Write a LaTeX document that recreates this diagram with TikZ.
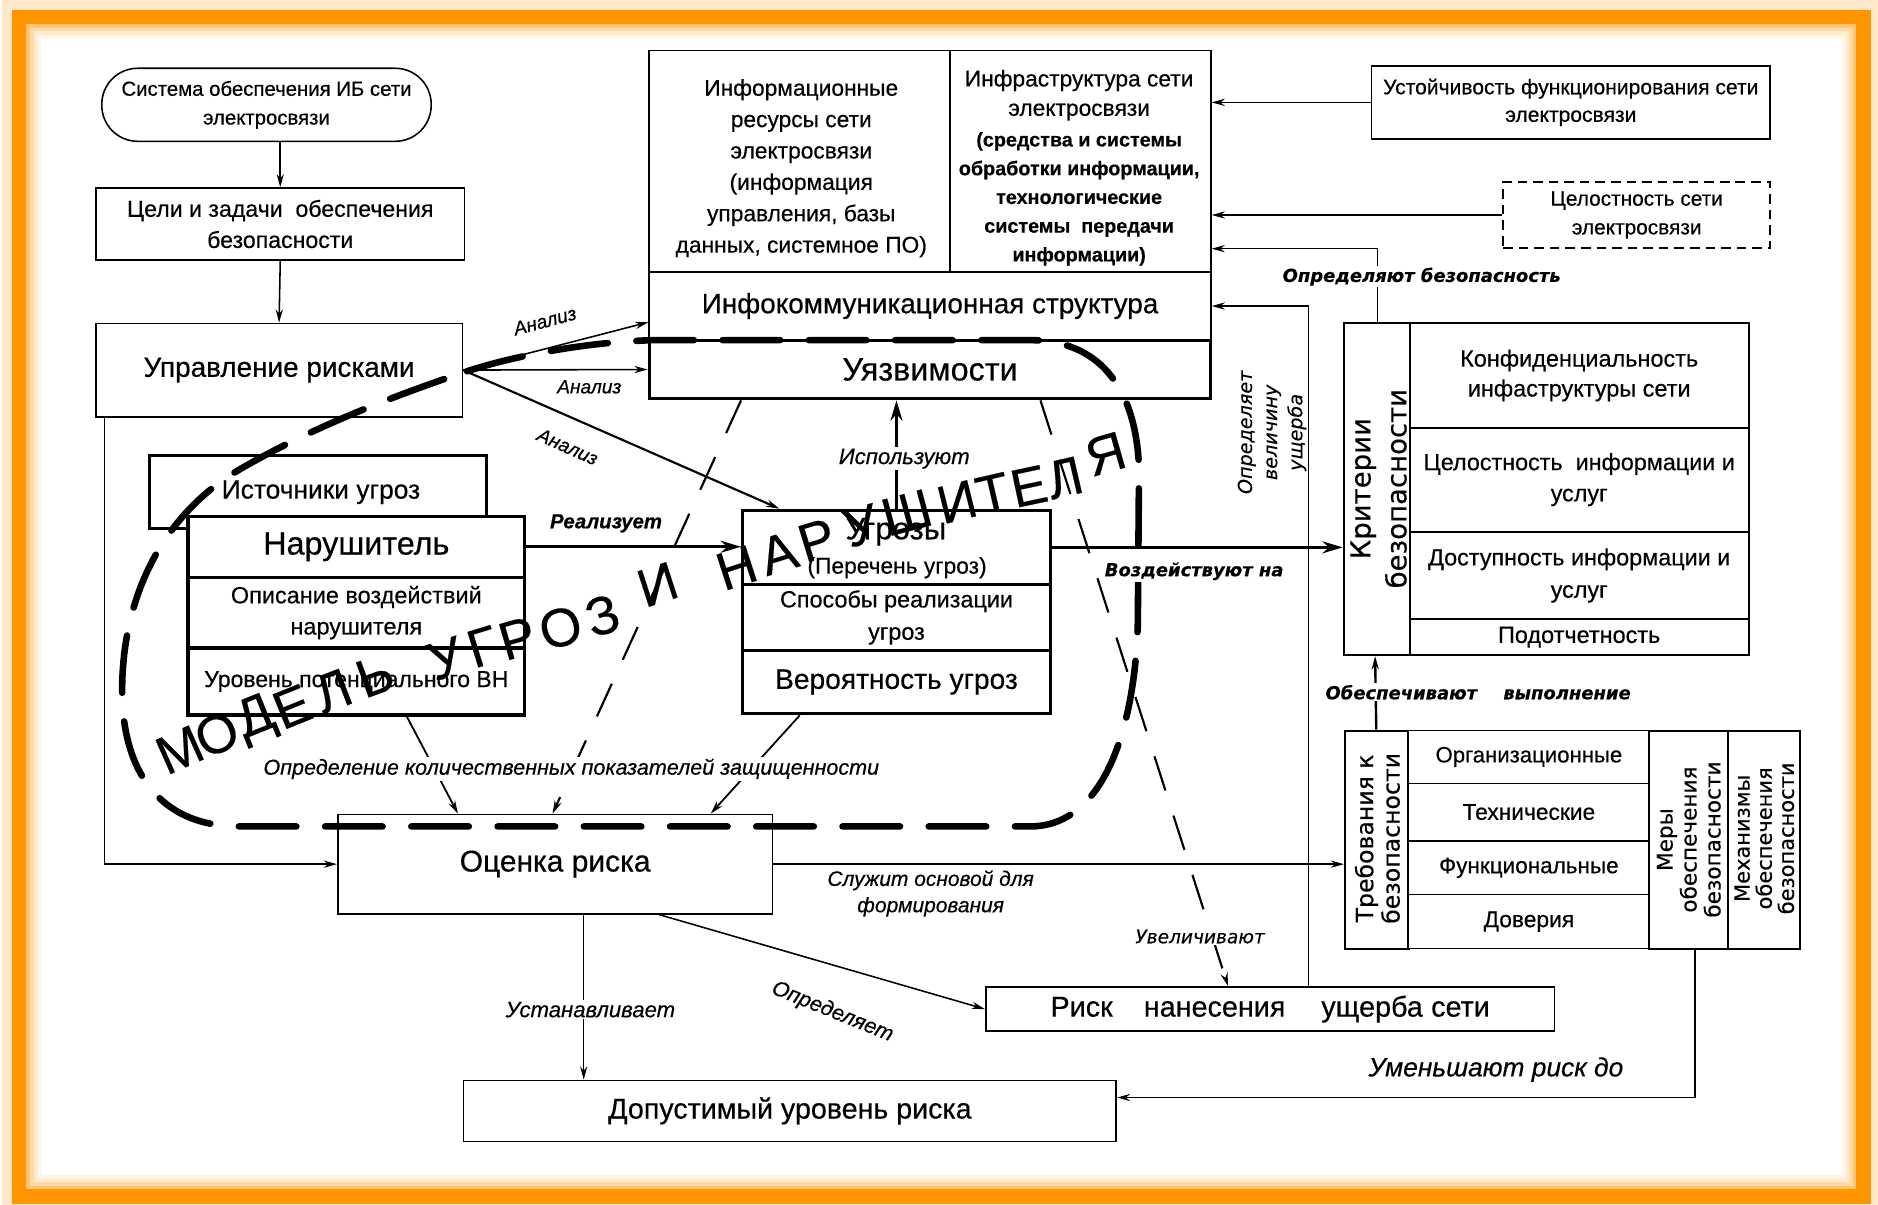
\documentclass[tikz,border=0pt]{standalone}
\usepackage{fontspec}
\setmainfont{Liberation Sans}[FakeBold=0.45]
\newfontfamily\widefont{DejaVu Sans}[FakeBold=0.3]
\newfontfamily\modelfont{Liberation Sans}[FakeBold=0.3]
\usetikzlibrary{arrows.meta,calc}
\definecolor{frameor}{RGB}{255,150,0}
\newcommand\fs[2]{\fontsize{#1pt}{#2pt}\selectfont}

\begin{document}
\begin{tikzpicture}[x=1pt,y=-1pt,
  bx/.style={draw, line width=1.3pt, inner sep=0pt, align=center, fill=white},
  bxh/.style={draw, line width=2.6pt, inner sep=0pt, align=center, fill=white},
  bxm/.style={draw, line width=1.8pt, inner sep=0pt, align=center, fill=white},
  txt/.style={inner sep=0pt, align=center},
  lab/.style={inner sep=1.5pt, align=center},
  conn/.style={line width=1.3pt, -{Stealth[length=11pt,width=6pt]}},
  bigconn/.style={line width=2.6pt, -{Stealth[length=17pt,width=10pt]}},
  thindash/.style={line width=1.8pt, dash pattern=on 30pt off 22pt},
  modelline/.style={line width=5.5pt, line cap=round, dash pattern=on 48pt off 24pt},
  modelchar/.style={inner sep=0pt, font={\modelfont\fs{45}{45}}}
]
\useasboundingbox (0,0) rectangle (1568,1006);

% page and orange frame
\fill[white] (0,0) rectangle (1568,1006);
\draw[frameor!22, line width=28pt] (16,14) rectangle (1556,999);
\draw[frameor, line width=12pt] (16,14) rectangle (1556,999);
\foreach \i/\o in {0/55,3/35,6/20,9/10}
  \draw[frameor!\o, line width=3pt] ({23.5+\i},{21.5+\i}) rectangle ({1548.5-\i},{991.5-\i});

% left column
\node[bx, minimum width=275pt, minimum height=61pt, rounded corners=30pt, font={\fs{17}{24}}] (sys) at (222.5,87.5) {Система обеспечения ИБ сети\\электросвязи};
\node[bx, minimum width=308pt, minimum height=60pt, font={\fs{19.3}{26}}] (goals) at (234,187) {Цели и задачи\ \ обеспечения\\безопасности};
\node[bx, minimum width=306pt, minimum height=78pt, font={\fs{23.3}{28}}] (risk) at (233,309) {Управление рисками};

% infocommunication structure
\node[bx, minimum width=251pt, minimum height=185pt] (info) at (667.5,134.5) {};
\node[txt, font={\fs{19}{26.2}}] at (669,140.5) {Информационные\\ресурсы сети\\электросвязи\\(информация\\управления, базы\\данных, системное ПО)};
\node[bx, minimum width=218pt, minimum height=185pt] (infra) at (902,134.5) {};
\node[txt, font={\fs{19}{24.5}}] at (901,79.5) {Инфраструктура сети\\электросвязи};
\node[txt, font={\bfseries\fs{16.5}{24}}] at (901,166) {(средства и системы\\обработки информации,\\технологические\\системы\ \ передачи\\информации)};
\node[bx, minimum width=469pt, minimum height=57pt, font={\fs{23.3}{28}}] (infocom) at (776.5,255.5) {Инфокоммуникационная структура};
\node[bxh, minimum width=469pt, minimum height=49pt, font={\fs{27}{30}}] (vul) at (776.5,308.5) {Уязвимости};

% top right boxes
\node[bx, minimum width=333pt, minimum height=61pt, font={\fs{17.6}{23}}] (ust) at (1311.5,85.5) {Устойчивость функционирования сети\\электросвязи};
\node[bx, dash pattern=on 8pt off 5pt, minimum width=223pt, minimum height=55pt, font={\fs{17.4}{24}}] (cel) at (1366.5,179.5) {Целостность сети\\электросвязи};

% threat sources and intruder
\node[bxh, minimum width=281pt, minimum height=61pt] (ist) at (265.5,410.5) {};
\node[txt, font={\fs{22}{26}}] at (268,411) {Источники угроз};
\node[bxh, minimum width=281pt, minimum height=51pt, font={\fs{27}{30}}] (nar1) at (297.5,456.5) {Нарушитель};
\node[bxh, minimum width=281pt, minimum height=59pt, font={\fs{19.6}{26}}] (nar2) at (297.5,511.5) {Описание воздействий\\нарушителя};
\node[bxh, minimum width=281pt, minimum height=56pt, font={\fs{19.2}{24}}] (nar3) at (297.5,569) {Уровень потенциального ВН};

% threats
\node[bxh, minimum width=257pt, minimum height=62pt] (thr1) at (748.5,457) {};
\node[txt, font={\fs{26}{28}}] at (748,444) {Угрозы};
\node[txt, font={\fs{19}{24}}] at (749,474) {(Перечень угроз)};
\node[bxh, minimum width=257pt, minimum height=55pt, font={\fs{19.5}{27}}] (thr2) at (748.5,515.5) {Способы реализации\\угроз};
\node[bxh, minimum width=257pt, minimum height=53pt, font={\fs{23.5}{28}}] (thr3) at (748.5,569.5) {Вероятность угроз};

% security criteria
\node[bxm, minimum width=55pt, minimum height=277pt] (kritcol) at (1149.5,408.5) {};
\node[txt, rotate=90, font={\widefont\fs{23}{30}}] at (1151,408) {Критерии\\безопасности};
\node[bxm, minimum width=283pt, minimum height=87pt, font={\fs{19.6}{25}}] (k1) at (1318.5,313.5) {Конфиденциальность\\инфаструктуры сети};
\node[bxm, minimum width=283pt, minimum height=87pt, font={\fs{19.5}{26}}] (k2) at (1318.5,400.5) {Целостность\ \ информации и\\услуг};
\node[bxm, minimum width=283pt, minimum height=73pt, font={\fs{19.5}{27}}] (k3) at (1318.5,480.5) {Доступность информации и\\услуг};
\node[bxm, minimum width=283pt, minimum height=30pt, font={\fs{19.6}{24}}] (k4) at (1318.5,532) {Подотчетность};

% security requirements
\node[bxm, minimum width=53pt, minimum height=182pt] (trebcol) at (1149.5,701) {};
\node[txt, rotate=90, font={\widefont\fs{19.7}{22}}] at (1150,700) {Требования к\\безопасности};
\node[bx, minimum width=201pt, minimum height=44pt, font={\fs{18.5}{22}}] (t1) at (1276.5,632) {Организационные};
\node[bx, minimum width=201pt, minimum height=48pt, font={\fs{19}{22}}] (t2) at (1276.5,678) {Технические};
\node[bx, minimum width=201pt, minimum height=45pt, font={\fs{18.8}{22}}] (t3) at (1276.5,724.5) {Функциональные};
\node[bx, minimum width=201pt, minimum height=45pt, font={\fs{19}{22}}] (t4) at (1276.5,769.5) {Доверия};
\node[bxm, minimum width=66pt, minimum height=182pt] (mery) at (1410,701) {};
\node[txt, rotate=90, font={\widefont\fs{18}{20}}] at (1410,701) {Меры\\обеспечения\\безопасности};
\node[bxm, minimum width=60pt, minimum height=182pt] (mech) at (1473,701) {};
\node[txt, rotate=90, font={\widefont\fs{17.5}{18.5}}] at (1473,700) {Механизмы\\обеспечения\\безопасности};

% risk assessment
\node[bx, minimum width=363pt, minimum height=83pt, font={\fs{25}{30}}] (est) at (463.5,721.5) {Оценка риска};
\node[bx, minimum width=545pt, minimum height=51pt, font={\fs{23.9}{28}}] (dop) at (659.5,927.5) {Допустимый уровень риска};
\node[bx, minimum width=475pt, minimum height=37pt, font={\fs{24}{28}}] (riskdmg) at (1060.5,842.5) {Риск\hspace{26pt}нанесения\hspace{30pt}ущерба\hspace{7pt}сети};

% connectors
\draw[conn] (sys.south -| goals.north) -- (goals.north);
\draw[conn] (goals.south) -- (risk.north);
\draw[conn] ($(risk.south west)+(8,0)$) |- (est.west);
\draw[conn] (risk.east) -- ($(infocom.west)+(0,13.5)$);
\draw[conn] (risk.east) -- (vul.west);
\draw[conn, line width=1.8pt] (risk.east) -- ($(thr1.north west)+(32,0)$);
\draw[bigconn] (nar1.east) -- (nar1.east -| thr1.west);
\draw[bigconn] (thr1.east) -- (thr1.east -| kritcol.west);
\draw[bigconn] (thr1.north) -- (thr1.north |- vul.south);
\draw[conn, line width=1.5pt] ($(nar3.south west)+(184,0)$) -- ($(est.north west)+(101,0)$);
\draw[conn, thindash] ($(vul.south west)+(78,0)$) -- ($(est.north west)+(180,0)$);
\draw[conn, line width=1.5pt] ($(thr3.south west)+(49,0)$) -- ($(est.north west)+(312,0)$);
\draw[conn, thindash] ($(vul.south west)+(328,0)$) -- ($(riskdmg.north west)+(203,0)$);
\draw[conn] (est.east) -- (est.east -| trebcol.west);
\draw[conn] ($(est.south west)+(206,0)$) -- ($(dop.north west)+(101,0)$);
\draw[conn] ($(est.south west)+(269,0)$) -- (riskdmg.west);
\draw[conn] ($(trebcol.south west)+(293,0)$) |- ($(dop.north east)+(0,15)$);
\draw[conn] ($(riskdmg.north west)+(270,0)$) |- (infocom.east);
\draw[conn] (ust.west) -- (ust.west -| infra.east);
\draw[conn] (cel.west) -- (cel.west -| infra.east);
\draw[conn] ($(kritcol.north west)+(29,0)$) |- ($(infra.south east)+(0,-20)$);
\draw[conn, line width=2pt] ($(trebcol.north west)+(27,0)$) -- ($(kritcol.south west)+(27,0)$);

% boundary of the threat and intruder model
\draw[modelline] (390,310) .. controls (420,300) and (480,286) .. (545,284) -- (860,284)
  .. controls (915,284) and (948,320) .. (951,390) -- (950,520)
  .. controls (948,600) and (925,690) .. (860,690) -- (200,690)
  .. controls (130,690) and (103,640) .. (102,580)
  .. controls (101,500) and (135,430) .. (200,392)
  .. controls (260,357) and (330,330) .. (390,310);

% connector labels
\node[lab, rotate=15, font={\itshape\fs{16}{18}}] at (455,268) {Анализ};
\node[lab, font={\itshape\fs{16}{18}}] at (492,323) {Анализ};
\node[lab, rotate=-24, font={\itshape\fs{16}{18}}] at (474,373) {Анализ};
\node[lab, font={\bfseries\itshape\fs{17}{20}}] at (506,437) {Реализует};
\node[lab, fill=white, font={\itshape\fs{18.5}{20}}] at (755,383) {Используют};
\node[lab, fill=white, font={\widefont\bfseries\itshape\fs{15}{18}}] at (997,477) {Воздействуют на};
\node[lab, fill=white, font={\itshape\fs{18}{20}}] at (477,642) {Определение количественных показателей защищенности};
\node[lab, font={\itshape\fs{17.5}{22}}] at (777,746) {Служит основой для\\формирования};
\node[lab, fill=white, font={\itshape\fs{18.5}{20}}] at (493,843) {Устанавливает};
\node[lab, rotate=-22, font={\itshape\fs{18}{20}}] at (695,845) {Определяет};
\node[lab, fill=white, font={\widefont\itshape\fs{15.5}{18}}] at (1002,782) {Увеличивают};
\node[lab, font={\itshape\fs{22}{24}}] at (1249,893) {Уменьшают риск до};
\node[lab, fill=white, font={\widefont\bfseries\itshape\fs{15}{18}}] at (1187,231) {Определяют безопасность};
\node[lab, fill=white, anchor=west, font={\widefont\bfseries\itshape\fs{15}{18}}] at (1105,578) {Обеспечивают\hspace{22pt}выполнение};
\node[lab, rotate=90, font={\widefont\itshape\fs{16}{21}}] at (1062,361) {Определяет\\величину\\ущерба};

% model title set along the boundary
\foreach \ch/\x/\y/\a in {М/150/626/24, О/181/613/23, Д/214/601/22, Е/244/590/22, Л/278/577/21, Ь/313/564/20,
  У/372/550/18, Г/403/540/17, Р/432/533/16, О/468/524/16, З/503/514/17, И/549/488/18,
  Н/615/474/18, А/650/462/17, Р/682/451/17, У/719/439/16, Ш/757/428/15, И/799/419/14,
  Т/829/412/13, Е/859/406/12, Л/889/399/13, Я/923/379/16}
  \node[modelchar, rotate=\a] at (\x,\y) {\ch};
\end{tikzpicture}
\end{document}
